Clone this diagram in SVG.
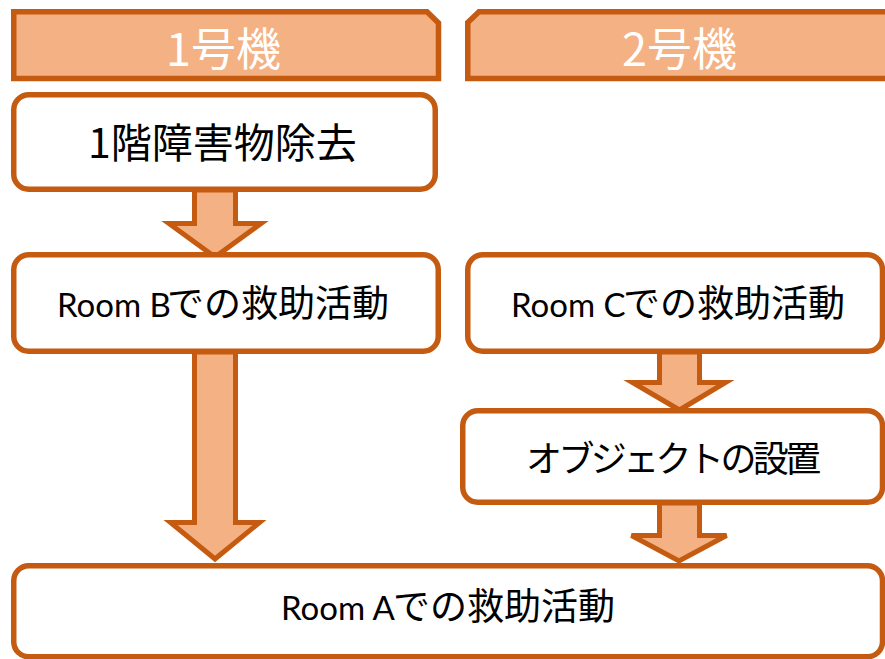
<svg xmlns="http://www.w3.org/2000/svg" width="885" height="659" viewBox="0 0 885 659">
<style>
.hdr{fill:#F4B183;stroke:#C55A11;stroke-width:5.5;stroke-linejoin:miter}
.box{fill:#FFFFFF;stroke:#C55A11;stroke-width:5.5}
.arr{fill:#F4B183;stroke:#C55A11;stroke-width:5;stroke-linejoin:miter}
.ht{fill:#FFFFFF;font-family:"Noto Sans CJK JP",sans-serif;font-size:45px}
.jp{fill:#000000;font-family:"Noto Sans CJK JP",sans-serif}
.lat{font-family:Lato,"Noto Sans CJK JP",sans-serif;font-size:33px}
</style>
<rect width="885" height="659" fill="#FFFFFF"/>
<g id="connectors">
<path class="arr" d="M194.5,190 V223.5 H169 L215,257 L261,223.5 H235.5 V190 Z"/>
<path class="arr" d="M194.5,352 V522.5 H170.5 L215,559 L259.5,522.5 H235.5 V352 Z"/>
<path class="arr" d="M659.5,352 V382.5 H632.5 L679.5,410 L725.5,382.5 H699.5 V352 Z"/>
<path class="arr" d="M659.5,503 V535.5 H631.5 L679,561 L726.5,535.5 H699.5 V503 Z"/>
</g>
<g id="header1">
<path class="hdr" d="M13.75,11.75 H427 L438.5,23 V78.5 H13.75 Z"/>
<text class="ht" x="166" y="66">1号機</text>
</g>
<g id="header2">
<path class="hdr" d="M467.75,22.5 L479,11.75 H900 V78.5 H467.75 Z"/>
<text class="ht" x="622" y="66">2号機</text>
</g>
<g id="node1">
<rect class="box" x="13.75" y="94.75" width="421.5" height="94.5" rx="15"/>
<text class="jp" x="88" y="158" font-size="41">1階障害物除去</text>
</g>
<g id="nodeB">
<rect class="box" x="13.75" y="254.75" width="424.5" height="96.5" rx="15"/>
<text class="jp" y="317" font-size="37"><tspan class="lat" x="57">Room B</tspan><tspan x="167">での救助活動</tspan></text>
</g>
<g id="nodeC">
<rect class="box" x="467.75" y="254.75" width="414.75" height="96.5" rx="15"/>
<text class="jp" y="317" font-size="37"><tspan class="lat" x="511">Room C</tspan><tspan x="623">での救助活動</tspan></text>
</g>
<g id="nodeObj">
<rect class="box" x="462.75" y="410.75" width="419.75" height="91.5" rx="15"/>
<text class="jp" x="526" y="472" font-size="36" letter-spacing="-3.6">オブジェクトの設置</text>
</g>
<g id="nodeA">
<rect class="box" x="13.75" y="565.75" width="868.75" height="91" rx="15"/>
<text class="jp" y="620" font-size="37"><tspan class="lat" x="281">Room A</tspan><tspan x="393">での救助活動</tspan></text>
</g>
</svg>
